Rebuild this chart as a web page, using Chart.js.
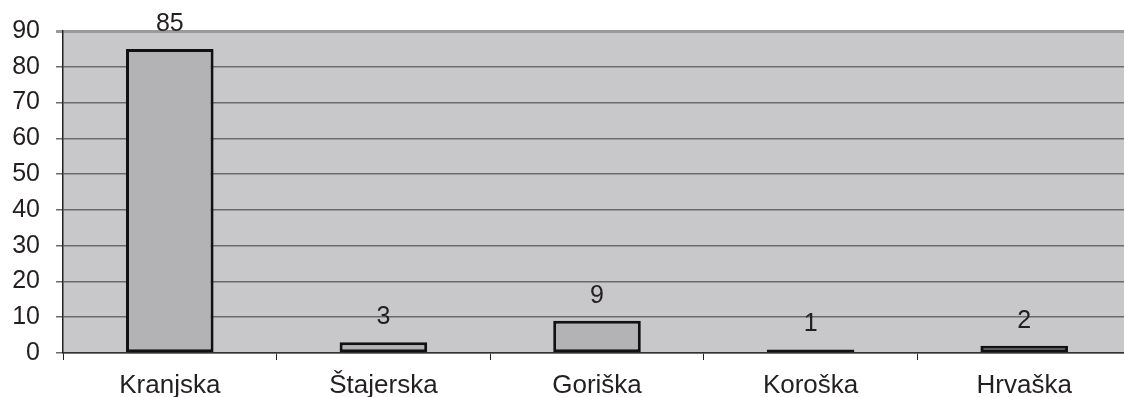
<!DOCTYPE html>
<html>
<head>
<meta charset="utf-8">
<script src="https://cdn.jsdelivr.net/npm/chart.js@4.4.1/dist/chart.umd.min.js"></script>
<style>
html,body{margin:0;padding:0;background:#fff;overflow:hidden;}
#wrap{width:1131px;height:397px;position:relative;}
</style>
</head>
<body>
<div id="wrap"><canvas id="c"></canvas></div>
<script>
const categories = ['Kranjska', 'Štajerska', 'Goriška', 'Koroška', 'Hrvaška'];
const values = [85, 3, 9, 1, 2];
const yTicks = [0, 10, 20, 30, 40, 50, 60, 70, 80, 90];

const FONT = "'Liberation Sans', Arial, sans-serif";
const TEXT = '#231f20';

const plotBg = {
  id: 'plotBg',
  beforeDraw(chart) {
    const {ctx, chartArea: a} = chart;
    ctx.save();
    ctx.fillStyle = '#c8c8ca';
    ctx.fillRect(a.left, a.top, a.right - a.left, a.bottom - a.top);
    ctx.restore();
  }
};

const valueLabels = {
  id: 'valueLabels',
  afterDatasetsDraw(chart) {
    const {ctx} = chart;
    const meta = chart.getDatasetMeta(0);
    ctx.save();
    ctx.font = '25px ' + FONT;
    ctx.fillStyle = TEXT;
    ctx.textAlign = 'center';
    ctx.textBaseline = 'alphabetic';
    meta.data.forEach((bar, i) => {
      ctx.fillText(String(values[i]), bar.x, bar.y - 18);
    });
    ctx.restore();
  }
};

new Chart(document.getElementById('c'), {
  type: 'bar',
  data: {
    labels: categories,
    datasets: [{
      data: values,
      backgroundColor: '#b3b3b5',
      borderColor: '#111111',
      borderWidth: 3,
      borderSkipped: false,
      categoryPercentage: 1,
      barPercentage: 0.41
    }]
  },
  options: {
    responsive: true,
    maintainAspectRatio: false,
    animation: false,
    devicePixelRatio: 1,
    layout: {padding: {top: 29, right: 0, left: 0, bottom: 0}},
    plugins: {legend: {display: false}, tooltip: {enabled: false}},
    scales: {
      x: {
        offset: true,
        afterFit(s) { s.height = 44; },
        grid: {offset: true, drawOnChartArea: false, drawTicks: true, tickLength: 7, color: '#222', lineWidth: 1},
        border: {color: '#333', width: 1.5},
        ticks: {font: {family: FONT, size: 26}, color: TEXT, padding: 10, maxRotation: 0}
      },
      y: {
        min: 0,
        max: 90,
        afterFit(s) { s.width = 63; },
        afterBuildTicks(s) { s.ticks = yTicks.map(v => ({value: v})); },
        grid: {
          tickLength: 7,
          color: (c) => (c.tick && c.tick.value === 90) ? '#9a9a9a' : '#6a6a6a',
          lineWidth: (c) => (c.tick && c.tick.value === 90) ? 3 : 1.5
        },
        border: {color: '#222', width: 1.5},
        ticks: {font: {family: FONT, size: 25}, color: TEXT, padding: 16, stepSize: 10}
      }
    }
  },
  plugins: [plotBg, valueLabels]
});
</script>
</body>
</html>
